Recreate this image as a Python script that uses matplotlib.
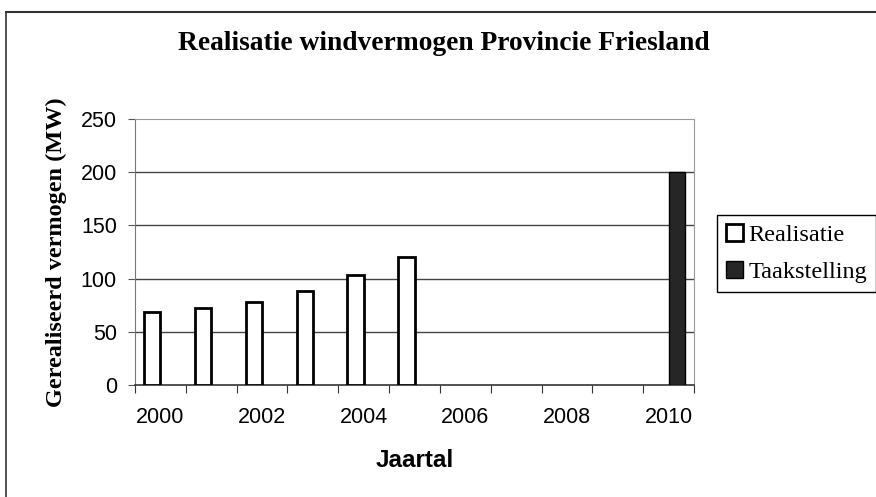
import matplotlib.pyplot as plt
from matplotlib.lines import Line2D
import numpy as np

# data
years = [2000, 2001, 2002, 2003, 2004, 2005, 2006, 2007, 2008, 2009, 2010]
realisatie = [69, 72, 78, 88, 103, 120, None, None, None, None, None]
taakstelling = [None, None, None, None, None, None, None, None, None, None, 200]
label_years = [2000, 2002, 2004, 2006, 2008, 2010]

serif = 'Liberation Serif'
sans = 'Liberation Sans'

fig = plt.figure(figsize=(8.76, 4.97), dpi=100)
ax = fig.add_axes([135 / 876, 1 - 385 / 497, (694 - 135) / 876, (385 - 119) / 497])

x = np.arange(len(years))
real = np.array(realisatie, dtype=float)
taak = np.array(taakstelling, dtype=float)
w = 0.32
ax.bar(x - 0.16, real, w, color='white', edgecolor='black', linewidth=2,
       label='Realisatie', zorder=3)
ax.bar(x + 0.16, taak, w, color='#262626', edgecolor='black', linewidth=1,
       label='Taakstelling', zorder=3)

ax.set_xlim(-0.5, len(years) - 0.5)
ax.set_ylim(0, 250)

# gridlines
for v in [50, 100, 150, 200]:
    ax.axhline(v, color='#444444', linewidth=1, zorder=1)

ax.spines['top'].set_color('#999999')
ax.spines['top'].set_linestyle((0, (2, 1)))
ax.spines['right'].set_color('#999999')
ax.spines['right'].set_linestyle((0, (2, 1)))
ax.spines['left'].set_color('#777777')
ax.spines['bottom'].set_color('#333333')
ax.spines['bottom'].set_linewidth(1.2)

# ticks at category boundaries, labels centred
ax.set_xticks(np.arange(-0.5, len(years), 1.0))
ax.set_xticklabels([])
ax.tick_params(axis='x', which='major', direction='out', length=6, color='#333333')
ax.set_xticks([years.index(y) for y in label_years], minor=True)
ax.set_xticklabels([str(y) for y in label_years], minor=True, fontfamily=sans, fontsize=15.5)
ax.tick_params(axis='x', which='minor', length=0, pad=16)

ax.set_yticks([0, 50, 100, 150, 200, 250])
ax.set_yticklabels(['0', '50', '100', '150', '200', '250'], fontfamily=sans, fontsize=15.5)
ax.tick_params(axis='y', direction='out', length=5, color='#555555', pad=8)

ax.set_xlabel('Jaartal', fontfamily=sans, fontweight='bold', fontsize=17.5, labelpad=15)
ax.set_ylabel('Gerealiseerd vermogen (MW)', fontfamily=serif, fontweight='bold',
              fontsize=17.5, labelpad=10)

fig.text(0.507, 1 - 43 / 497, 'Realisatie windvermogen Provincie Friesland',
         ha='center', va='center', fontfamily=serif, fontweight='bold', fontsize=19.8)

leg = ax.legend(loc='upper left', bbox_to_anchor=(717 / 876, 1 - 215 / 497),
                bbox_transform=fig.transFigure, prop={'family': serif, 'size': 17.5},
                frameon=True, fancybox=False, edgecolor='black', framealpha=1,
                handlelength=0.7, handleheight=0.7, handletextpad=0.25,
                borderpad=0.35, labelspacing=0.65, borderaxespad=0)
leg.get_frame().set_linewidth(1)

# chart area border (top and left visible)
fig.add_artist(Line2D([6 / 876, 1], [1 - 12 / 497, 1 - 12 / 497], color='#333333',
                      linewidth=1.5, transform=fig.transFigure))
fig.add_artist(Line2D([6 / 876, 6 / 876], [0, 1 - 12 / 497], color='#333333',
                      linewidth=1.2, transform=fig.transFigure))

fig.savefig('out.png', dpi=100)
